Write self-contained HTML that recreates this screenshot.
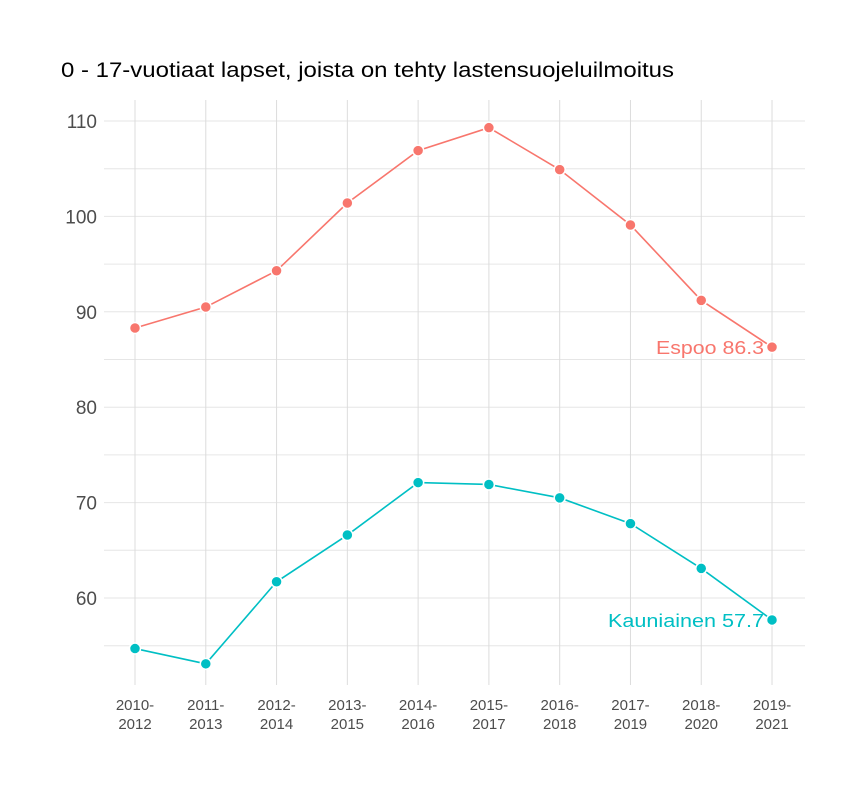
<!DOCTYPE html>
<html><head><meta charset="utf-8"><style>
body{margin:0;background:#fff;}
svg text{font-family:"Liberation Sans",sans-serif;}
</style></head><body>
<svg id="chart" width="864" height="792" xmlns="http://www.w3.org/2000/svg">
<rect width="864" height="792" fill="#fff"/>
<text x="61" y="77" font-size="21" fill="#000" textLength="613" lengthAdjust="spacingAndGlyphs">0 - 17-vuotiaat lapset, joista on tehty lastensuojeluilmoitus</text>
<g id="grid"></g><g id="axes"></g><g id="series"></g>
</svg>
<script>
const categories=["2010-2012","2011-2013","2012-2014","2013-2015","2014-2016","2015-2017","2016-2018","2017-2019","2018-2020","2019-2021"];
const espooValues=[88.3,90.5,94.3,101.4,106.9,109.3,104.9,99.1,91.2,86.3];
const kauniainenValues=[54.7,53.1,61.7,66.6,72.1,71.9,70.5,67.8,63.1,57.7];
const yTicks=[60,70,80,90,100,110];
const yMinor=[55,65,75,85,95,105];
const ns="http://www.w3.org/2000/svg";
const X=i=>135+i*70.78;
const Y=v=>121+(110-v)*9.54;
const L=104,R=805,T=100,B=685;
function mk(tag,attrs,parent){const e=document.createElementNS(ns,tag);for(const k in attrs)e.setAttribute(k,attrs[k]);parent.appendChild(e);return e;}
const grid=document.getElementById('grid'),axes=document.getElementById('axes'),ser=document.getElementById('series');
yMinor.forEach(v=>{const l=mk('line',{x1:L,x2:R,y1:Y(v),y2:Y(v),stroke:'#e6e6e6','stroke-width':1},grid);

});
yTicks.forEach(v=>{const l=mk('line',{x1:L,x2:R,y1:Y(v),y2:Y(v),stroke:'#e6e6e6','stroke-width':1},grid);


const t=mk('text',{x:97,y:Y(v)+7,'text-anchor':'end','font-size':19,fill:'#4d4d4d'},axes);t.textContent=v;

});
categories.forEach((c,i)=>{const l=mk('line',{x1:X(i),x2:X(i),y1:T,y2:B,stroke:'#dcdcdc','stroke-width':1},grid);


const p=c.split('-');
const t=mk('text',{x:X(i),y:710,'text-anchor':'middle','font-size':15,fill:'#4d4d4d'},axes);


mk('tspan',{x:X(i),dy:0},t).textContent=p[0]+'-';
mk('tspan',{x:X(i),dy:19},t).textContent=p[1];});
function series(vals,color,name,label,w){
const d=vals.map((v,i)=>(i?'L':'M')+X(i)+','+Y(v)).join(' ');
const pth=mk('path',{d:d,fill:'none',stroke:color,'stroke-width':1.6},ser);


vals.forEach((v,i)=>{const c=mk('circle',{cx:X(i),cy:Y(v),r:5.5,fill:color,stroke:'#fff','stroke-width':1.5},ser);

});
const n=vals.length-1;
const t=mk('text',{x:X(n)-8-w,y:Y(vals[n])+7,'font-size':18,fill:color,textLength:w,lengthAdjust:'spacingAndGlyphs'},ser);
t.textContent=label+' '+vals[n];

}
series(espooValues,'#f8766d','espoo','Espoo',108);
series(kauniainenValues,'#00bfc4','kauniainen','Kauniainen',156);
</script>
</body></html>
